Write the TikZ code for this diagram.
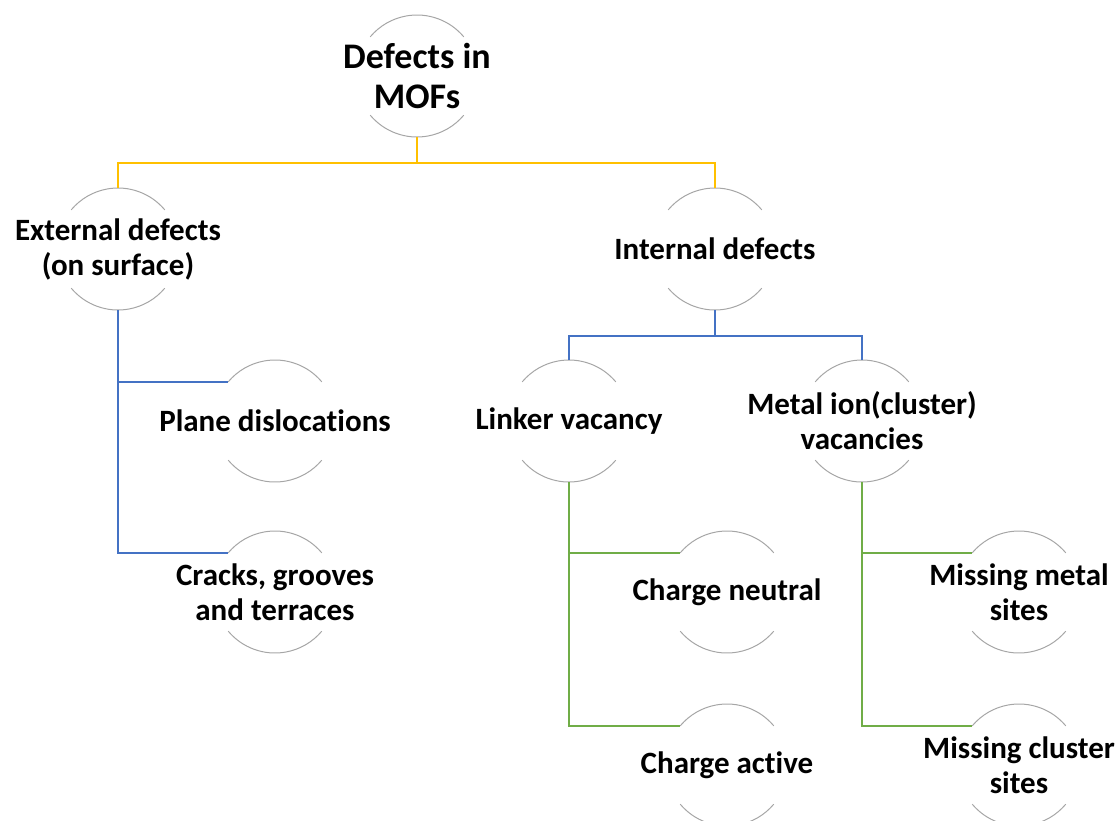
\documentclass[tikz,border=0pt]{standalone}
\usepackage{fontspec}
\setmainfont{Carlito}[Ligatures=NoCommon]
\usepackage{tikz}
\definecolor{goldline}{HTML}{FFC000}
\definecolor{blueline}{HTML}{4472C4}
\definecolor{greenline}{HTML}{70AD47}
\definecolor{ringgray}{HTML}{A6A6A6}

\begin{document}
\begin{tikzpicture}[x=1pt,y=1pt,
    ring/.style={shape=circle,minimum size=122pt,inner sep=0pt,outer sep=0pt},
    txt/.style={font=\bfseries\fontsize{31}{35}\selectfont,align=center},
    bigtxt/.style={font=\bfseries\fontsize{36}{40}\selectfont,align=center},
    arcline/.style={draw=ringgray,line width=1pt},
    yl/.style={draw=goldline,line width=1.6pt},
    bl/.style={draw=blueline,line width=1.6pt},
    gl/.style={draw=greenline,line width=1.6pt}]
        \useasboundingbox (0,0) rectangle (1120,-820);

        \node[ring,label={[bigtxt]center:Defects in\\MOFs}] (root) at (417,-76) {};
        \node[ring,label={[txt]center:External defects\\(on surface)}] (ext) at (118,-249) {};
        \node[ring,label={[txt]center:Internal defects}] (int) at (715,-249) {};
        \node[ring,label={[txt]center:Plane dislocations}] (plane) at (275,-421) {};
        \node[ring,label={[txt]center:Cracks, grooves\\and terraces}] (crack) at (275,-592) {};
        \node[ring,label={[txt]center:Linker vacancy}] (link) at (569,-421) {};
        \node[ring,label={[txt]center:Metal ion(cluster)\\vacancies}] (metal) at (862,-421) {};
        \node[ring,label={[txt]center:Charge neutral}] (neut) at (727,-592) {};
        \node[ring,label={[txt]center:Charge active}] (act) at (727,-765) {};
        \node[ring,label={[txt]center:Missing metal\\sites}] (mmetal) at (1019,-592) {};
        \node[ring,label={[txt]center:Missing cluster\\sites}] (mclus) at (1019,-765) {};

        %half rings
        \foreach \n in {root,ext,int,plane,crack,link,metal,neut,act,mmetal,mclus} {
            \draw[arcline] (\n.40) arc[start angle=40,end angle=140,radius=61pt];
            \draw[arcline] (\n.220) arc[start angle=220,end angle=320,radius=61pt];
        }

        %edges
        \draw[yl] (root.south) -- ++(0,-26) coordinate (rj);
        \draw[yl] (ext.north) |- (rj) -| (int.north);
        \draw[bl] (ext.south) |- (plane.140);
        \draw[bl] (ext.south) |- (crack.140);
        \draw[bl] (int.south) -- ++(0,-26) coordinate (ij);
        \draw[bl] (link.north) |- (ij) -| (metal.north);
        \draw[gl] (link.south) |- (neut.140);
        \draw[gl] (link.south) |- (act.140);
        \draw[gl] (metal.south) |- (mmetal.140);
        \draw[gl] (metal.south) |- (mclus.140);
\end{tikzpicture}
\end{document}
